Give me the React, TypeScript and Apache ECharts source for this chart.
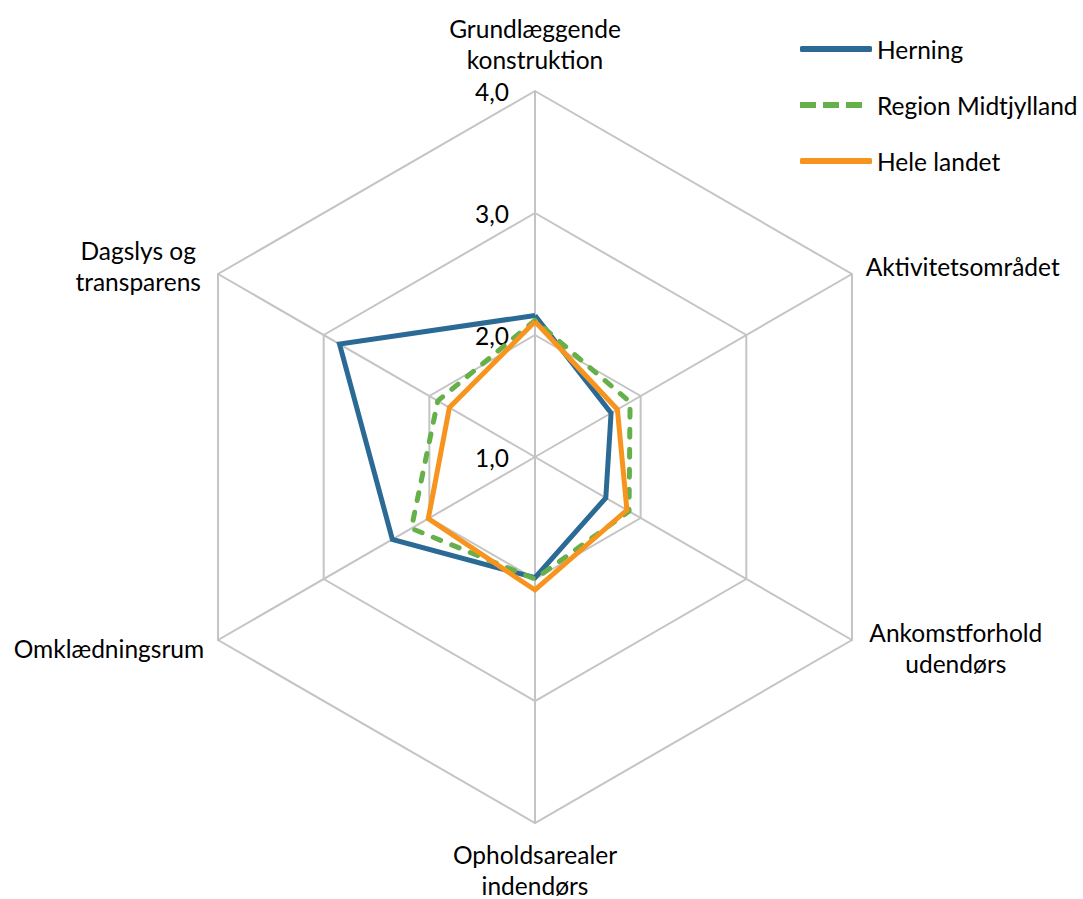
import React, { useEffect, useRef } from 'react';
import * as echarts from 'echarts';

// Categories in clockwise order, starting at the top
const categories = [
  'Grundlæggende\nkonstruktion',
  'Aktivitetsområdet',
  'Ankomstforhold\nudendørs',
  'Opholdsarealer\nindendørs',
  'Omklædningsrum',
  'Dagslys og\ntransparens',
];
const seriesNames = ['Herning', 'Region Midtjylland', 'Hele landet'];
const herning = [2.16, 1.72, 1.67, 1.99, 2.35, 2.85];
const regionMidtjylland = [2.12, 1.9, 1.89, 2.0, 2.17, 1.92];
const heleLandet = [2.11, 1.78, 1.87, 2.09, 2.01, 1.81];
const axisMin = 1;
const axisMax = 4;
const splits = 3;

const BLUE = '#2A6A95';
const GREEN = '#66B04A';
const ORANGE = '#F7941D';
const GRID = '#C4C4C4';
const FONT = 'Lato, "Liberation Sans", sans-serif';
const FS = 24.5;

// ECharts places indicators counter-clockwise; reorder to keep clockwise layout
const ccw = <T,>(a: T[]): T[] => [a[0], ...a.slice(1).reverse()];

export default function App() {
  const ref = useRef<HTMLDivElement>(null);
  useEffect(() => {
    document.body.style.margin = '0';
    const chart = echarts.init(ref.current!, null, { renderer: 'svg' });
    const wrap = (name: string, key: string) =>
      name.split('\n').map((s) => `{${key}|${s}}`).join('\n');
    chart.setOption({
      animation: false,
      backgroundColor: '#ffffff',
      legend: {
        orient: 'vertical',
        left: 800,
        top: 35,
        padding: 0,
        itemWidth: 72,
        itemHeight: 6,
        itemGap: 28,
        textStyle: { fontSize: FS, fontFamily: FONT, color: '#000', lineHeight: 28 },
        data: [
          { name: seriesNames[0], icon: 'roundRect', itemStyle: { color: BLUE, borderWidth: 0 } },
          {
            name: seriesNames[1],
            icon: 'path://M0,0h16v6h-16z M23,0h16v6h-16z M46,0h16v6h-16z M72,0v6',
            itemStyle: { color: GREEN, borderWidth: 0 },
          },
          { name: seriesNames[2], icon: 'roundRect', itemStyle: { color: ORANGE, borderWidth: 0 } },
        ],
      },
      radar: {
        center: [535, 457],
        radius: 366,
        startAngle: 90,
        splitNumber: splits,
        shape: 'polygon',
        nameGap: 16,
        indicator: ccw(categories).map((name, i) => ({
          name,
          min: axisMin,
          max: axisMax,
          ...(i === 0 ? {} : { axisLabel: { show: false } }),
        })),
        axisName: {
          color: '#000',
          fontSize: FS,
          fontFamily: FONT,
          lineHeight: 31,
          formatter: (name: string) => {
            if (name === categories[2]) return wrap(name, 'ank');
            if (name === categories[5]) return wrap(name, 'dag');
            return name;
          },
          rich: {
            ank: { width: 180, align: 'center', fontSize: FS, fontFamily: FONT, color: '#000', lineHeight: 31 },
            dag: { width: 132, align: 'center', fontSize: FS, fontFamily: FONT, color: '#000', lineHeight: 31 },
          },
        },
        splitArea: { show: false },
        splitLine: { lineStyle: { color: GRID, width: 2 } },
        axisLine: { lineStyle: { color: GRID, width: 2 } },
        axisTick: { show: false },
        axisLabel: {
          show: true,
          color: '#000',
          fontSize: FS,
          fontFamily: FONT,
          margin: 26,
          formatter: (v: number) => v.toFixed(1).replace('.', ','),
        },
      },
      series: [
        {
          type: 'radar',
          symbol: 'none',
          data: [
            {
              name: seriesNames[0],
              value: ccw(herning),
              lineStyle: { color: BLUE, width: 5, join: 'miter' },
              itemStyle: { color: BLUE },
            },
            {
              name: seriesNames[1],
              value: ccw(regionMidtjylland),
              lineStyle: { color: GREEN, width: 5, type: [8, 12], cap: 'round' },
              itemStyle: { color: GREEN },
            },
            {
              name: seriesNames[2],
              value: ccw(heleLandet),
              lineStyle: { color: ORANGE, width: 5, join: 'miter' },
              itemStyle: { color: ORANGE },
            },
          ],
        },
      ],
    });
    return () => chart.dispose();
  }, []);
  return <div ref={ref} style={{ width: 1083, height: 899 }} />;
}
